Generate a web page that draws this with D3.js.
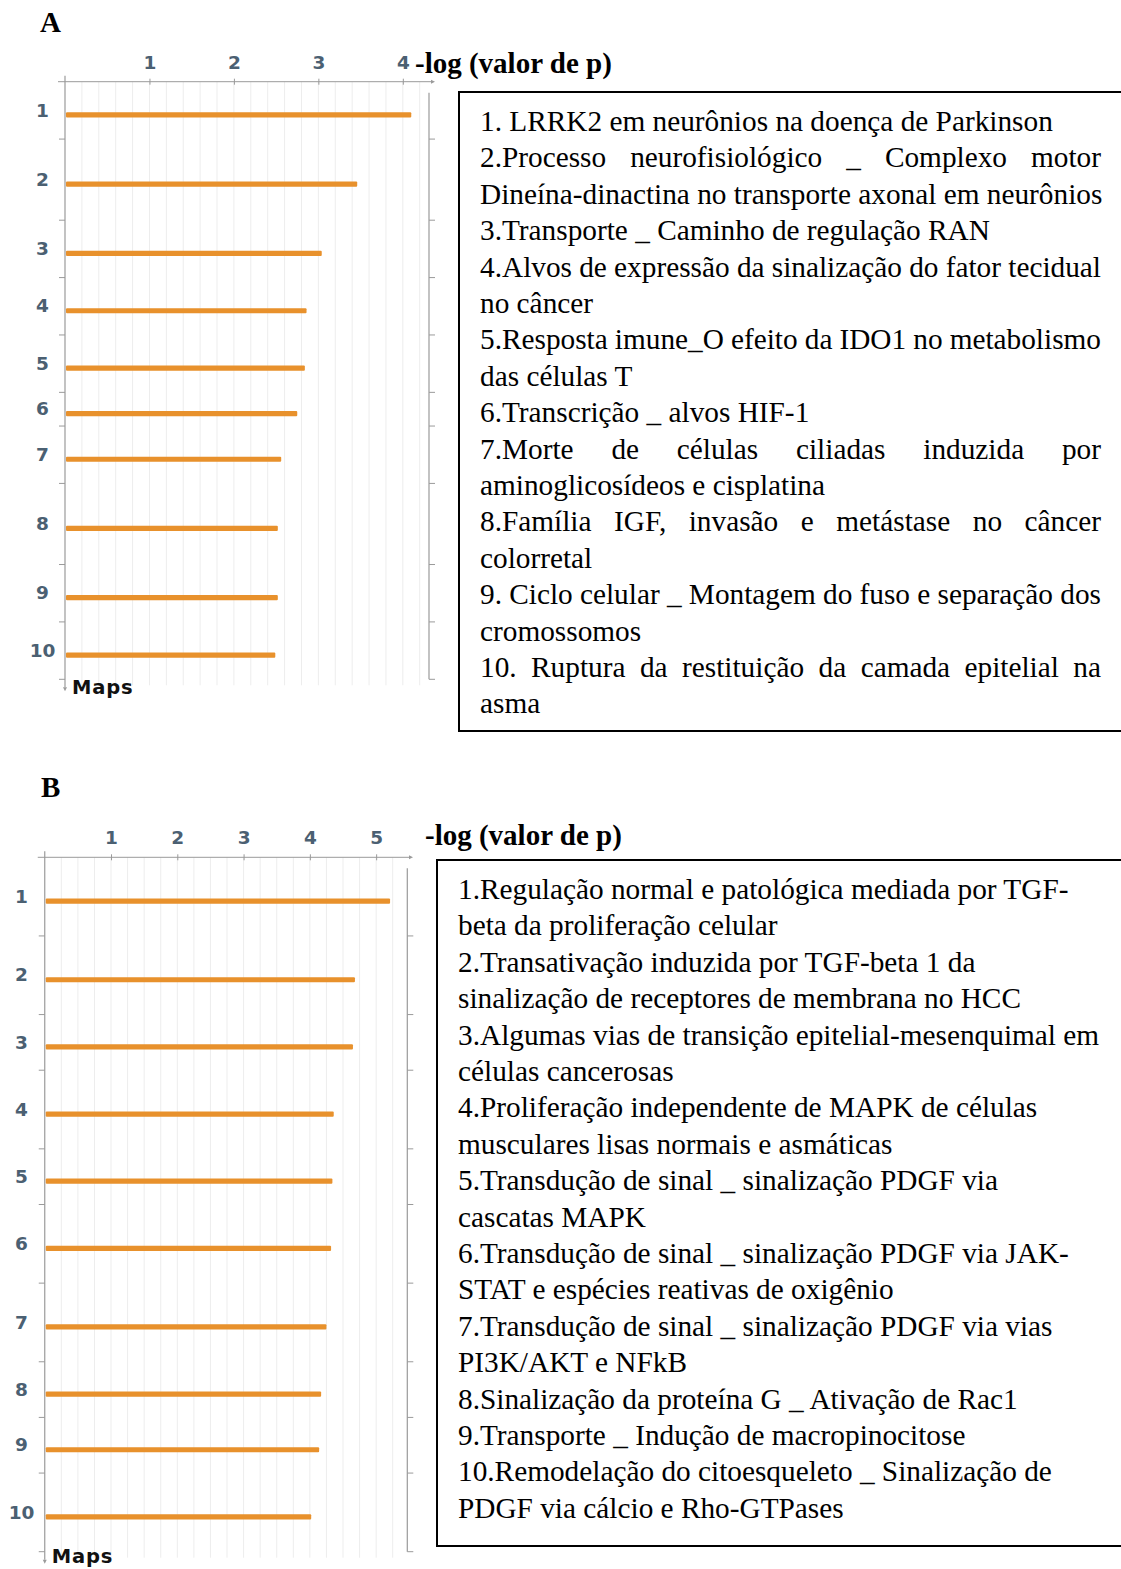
<!DOCTYPE html>
<html>
<head>
<meta charset="utf-8">
<script src="https://cdn.jsdelivr.net/npm/d3@7"></script>
<style>
  body { margin: 0; background: #fff; }
  svg { display: block; }
</style>
</head>
<body>
<svg id="fig" width="1121" height="1569"></svg>
<script>
// ---- data -------------------------------------------------------------
const mapIds = ["1", "2", "3", "4", "5", "6", "7", "8", "9", "10"];

// -log(p) for the ten top-ranked maps of each enrichment
const valuesA = [4.10, 3.46, 3.04, 2.86, 2.84, 2.75, 2.56, 2.52, 2.52, 2.49];
const valuesB = [5.21, 4.68, 4.65, 4.36, 4.34, 4.32, 4.25, 4.17, 4.14, 4.02];

// number of text lines each map name took in the original map list (row height)
const nameLinesA = [2, 3, 2, 2, 2, 1, 2, 3, 2, 2];
const nameLinesB = [3, 3, 2, 3, 2, 3, 3, 2, 2, 3];

const xTicksA = [1, 2, 3, 4];
const xTicksB = [1, 2, 3, 4, 5];

const axisTitle = "-log (valor de p)";
const rowAxisTitle = "Maps";

const legendA = [
  ["1. LRRK2 em neurônios na doença de Parkinson"],
  ["2.Processo neurofisiológico _ Complexo motor", "Dineína-dinactina no transporte axonal em neurônios"],
  ["3.Transporte _ Caminho de regulação RAN"],
  ["4.Alvos de expressão da sinalização do fator tecidual", "no câncer"],
  ["5.Resposta imune_O efeito da IDO1 no metabolismo", "das células T"],
  ["6.Transcrição _ alvos HIF-1"],
  ["7.Morte de células ciliadas induzida por", "aminoglicosídeos e cisplatina"],
  ["8.Família IGF, invasão e metástase no câncer", "colorretal"],
  ["9. Ciclo celular _ Montagem do fuso e separação dos", "cromossomos"],
  ["10. Ruptura da restituição da camada epitelial na", "asma"]
];

const legendB = [
  ["1.Regulação normal e patológica mediada por TGF-", "beta da proliferação celular"],
  ["2.Transativação induzida por TGF-beta 1 da", "sinalização de receptores de membrana no HCC"],
  ["3.Algumas vias de transição epitelial-mesenquimal em", "células cancerosas"],
  ["4.Proliferação independente de MAPK de células", "musculares lisas normais e asmáticas"],
  ["5.Transdução de sinal _ sinalização PDGF via", "cascatas MAPK"],
  ["6.Transdução de sinal _ sinalização PDGF via JAK-", "STAT e espécies reativas de oxigênio"],
  ["7.Transdução de sinal _ sinalização PDGF via vias", "PI3K/AKT e NFkB"],
  ["8.Sinalização da proteína G _ Ativação de Rac1"],
  ["9.Transporte _ Indução de macropinocitose"],
  ["10.Remodelação do citoesqueleto _ Sinalização de", "PDGF via cálcio e Rho-GTPases"]
];

// ---- styling ------------------------------------------------------------
const BAR = "#e8912c";
const SLATE = "#4b6072";
const AXIS = "#9a9a9a";
const GRID = "#ededed";
const SANS = "'DejaVu Sans', Verdana, sans-serif";
const SERIF = "'Liberation Serif', 'Times New Roman', serif";
const ROW_PAD = 0.42;     // extra row space, in text-line units
const LINE_H = 36.4;

const svg = d3.select("#fig");

function chartPanel(o) {
  const g = svg.append("g");
  const x = d3.scaleLinear().domain([0, o.xMax]).range([o.left, o.right]);

  const cum = [0];
  o.lines.forEach(l => cum.push(cum[cum.length - 1] + l + ROW_PAD));
  const y = d3.scaleLinear().domain([0, cum[cum.length - 1]]).range([o.top, o.bottom]);
  const rows = o.values.map((v, i) => ({
    id: o.ids[i], v,
    yc: (y(cum[i]) + y(cum[i + 1])) / 2 + 4.5
  }));
  const bounds = cum.map(c => y(c));

  // minor vertical grid
  const nGrid = Math.floor(o.xMax / o.gridStep + 1e-6);
  const grid = d3.range(1, nGrid + 1).map(k => k * o.gridStep);
  g.selectAll("line.grid").data(grid).join("line")
    .attr("class", "grid")
    .attr("x1", d => x(d)).attr("x2", d => x(d))
    .attr("y1", o.top).attr("y2", o.bottom + 6)
    .attr("stroke", GRID).attr("stroke-width", 1);

  // top value axis
  const axis = d3.axisTop(x).tickValues(o.ticks).tickFormat(d3.format("d"))
    .tickSizeInner(3).tickSizeOuter(0).tickPadding(10);
  const ag = g.append("g").attr("transform", `translate(0,${o.top})`).call(axis);
  ag.select(".domain").remove();
  ag.selectAll(".tick line").attr("stroke", AXIS).attr("y2", 3).attr("y1", -3);
  ag.selectAll(".tick text")
    .attr("fill", SLATE).attr("font-family", SANS).attr("font-weight", "bold")
    .attr("font-size", 18.5);
  g.append("line")
    .attr("x1", o.left - 7).attr("x2", o.axisEnd)
    .attr("y1", o.top).attr("y2", o.top)
    .attr("stroke", AXIS).attr("stroke-width", 1);
  g.append("path")
    .attr("d", `M${o.axisEnd},${o.top - 2}L${o.axisEnd + 4},${o.top}L${o.axisEnd},${o.top + 2}Z`)
    .attr("fill", AXIS);

  // left category axis with row separators
  g.append("line")
    .attr("x1", o.left).attr("x2", o.left)
    .attr("y1", o.top - 6).attr("y2", o.bottom + 8)
    .attr("stroke", AXIS).attr("stroke-width", 1.2);
  g.append("path")
    .attr("d", `M${o.left - 2},${o.bottom + 8}L${o.left},${o.bottom + 12}L${o.left + 2},${o.bottom + 8}Z`)
    .attr("fill", AXIS);
  g.selectAll("line.sep").data(bounds.slice(1)).join("line")
    .attr("class", "sep")
    .attr("x1", o.left - 6).attr("x2", o.left)
    .attr("y1", d => d).attr("y2", d => d)
    .attr("stroke", AXIS);

  // right frame line with separators
  g.append("line")
    .attr("x1", o.right).attr("x2", o.right)
    .attr("y1", o.top + 11).attr("y2", o.bottom)
    .attr("stroke", AXIS).attr("stroke-width", 1.2);
  g.selectAll("line.rsep").data(bounds.slice(1)).join("line")
    .attr("class", "rsep")
    .attr("x1", o.right).attr("x2", o.right + 6)
    .attr("y1", d => d).attr("y2", d => d)
    .attr("stroke", AXIS);

  // bars
  g.selectAll("rect.bar").data(rows).join("rect")
    .attr("class", "bar")
    .attr("x", x(0) + 1)
    .attr("y", d => d.yc - 2.6)
    .attr("width", d => x(d.v) - x(0) - 1)
    .attr("height", 5.2)
    .attr("rx", 1)
    .attr("fill", BAR);

  // row labels
  g.selectAll("text.rowlab").data(rows).join("text")
    .attr("class", "rowlab")
    .attr("x", o.labelX)
    .attr("y", d => d.yc - 5)
    .attr("dy", "0.36em")
    .attr("text-anchor", "middle")
    .attr("fill", SLATE).attr("font-family", SANS).attr("font-weight", "bold")
    .attr("font-size", 18.5)
    .text(d => d.id);

  // "Maps" caption under the row axis
  g.append("text")
    .attr("x", o.left + 7).attr("y", o.bottom + o.mapsDy)
    .attr("fill", "#111").attr("font-family", SANS).attr("font-weight", "bold")
    .attr("font-size", 19.5).attr("letter-spacing", 0.8)
    .text(rowAxisTitle);

  // value axis title
  g.append("text")
    .attr("x", o.titleX).attr("y", o.titleY)
    .attr("font-family", SERIF).attr("font-weight", "bold").attr("font-size", 29)
    .attr("fill", "#000")
    .text(axisTitle);

  // panel letter
  g.append("text")
    .attr("x", o.letterX).attr("y", o.letterY)
    .attr("font-family", SERIF).attr("font-weight", "bold").attr("font-size", 29)
    .text(o.letter);
}

function legendBox(o) {
  const g = svg.append("g");
  g.append("rect")
    .attr("x", o.x).attr("y", o.y).attr("width", 1200 - o.x).attr("height", o.h)
    .attr("fill", "none").attr("stroke", "#000").attr("stroke-width", 2);

  const lines = [];
  o.items.forEach(item => item.forEach((t, j) => lines.push({ t, last: j === item.length - 1 })));

  lines.forEach((ln, i) => {
    const yb = o.firstBaseline + i * LINE_H;
    const txt = g.append("text")
      .attr("x", o.textX).attr("y", yb)
      .attr("font-family", SERIF).attr("font-size", 29.3).attr("fill", "#000");
    if (o.justify && !ln.last) {
      const words = ln.t.split(" ");
      const spans = words.map(w => txt.append("tspan").text(w));
      const widths = spans.map(s => s.node().getComputedTextLength());
      const gap = (o.textW - d3.sum(widths)) / (words.length - 1);
      let cx = o.textX;
      spans.forEach((s, k) => { s.attr("x", cx); cx += widths[k] + gap; });
    } else {
      txt.text(ln.t);
    }
  });
}

chartPanel({
  letter: "A", letterX: 40, letterY: 32,
  ids: mapIds, values: valuesA, lines: nameLinesA, ticks: xTicksA,
  xMax: 4.31, left: 65, right: 429, axisEnd: 431,
  top: 81.7, bottom: 679.3, gridStep: 0.2, labelX: 42.5, mapsDy: 15,
  titleX: 415, titleY: 73
});
legendBox({
  x: 459, y: 92, h: 639, textX: 480, textW: 621, firstBaseline: 131,
  items: legendA, justify: true
});

chartPanel({
  letter: "B", letterX: 41, letterY: 797,
  ids: mapIds, values: valuesB, lines: nameLinesB, ticks: xTicksB,
  xMax: 5.47, left: 44.75, right: 407.3, axisEnd: 409,
  top: 857.3, bottom: 1551.7, gridStep: 0.25, labelX: 21.5, mapsDy: 11,
  titleX: 425, titleY: 845
});
legendBox({
  x: 437, y: 860, h: 686, textX: 458, textW: 642, firstBaseline: 899,
  items: legendB, justify: false
});
</script>
</body>
</html>
